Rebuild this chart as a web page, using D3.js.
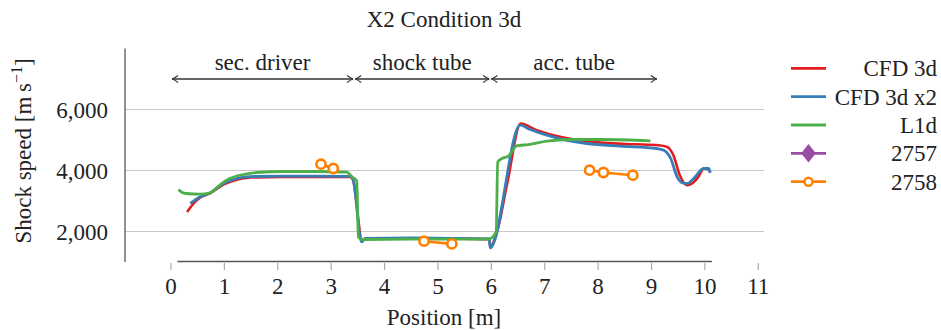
<!DOCTYPE html>
<html><head><meta charset="utf-8">
<script src="https://cdn.jsdelivr.net/npm/d3@7"></script>
<style>
body{margin:0;background:#fff;}
svg text{font-family:'Liberation Serif','Times New Roman',serif;fill:#222;}
</style></head>
<body><svg id="c" width="941" height="330" font-family="Liberation Serif, Times New Roman, serif"></svg>
<script>
// ---- data ----
const xTicks = [0,1,2,3,4,5,6,7,8,9,10,11];
const yTicks = [2000,4000,6000];
const cfd3d = [[0.30,2640],[0.36,2780],[0.45,2970],[0.54,3110],[0.73,3250],[0.98,3540],[1.23,3700],[1.48,3770],[2.1,3790],[2.8,3790],[3.35,3790],[3.41,3690],[3.47,3000],[3.52,2200],[3.57,1680],[3.64,1760],[4.5,1780],[5.5,1760],[5.96,1750],[5.98,1500],[6.1,1950],[6.3,3600],[6.55,5540],[6.85,5320],[7.35,5080],[8.1,4905],[8.7,4860],[9.13,4830],[9.29,4774],[9.41,4502],[9.53,3846],[9.67,3518],[9.76,3574],[9.88,3800],[9.98,4066],[10.07,4030],[10.1,3940]];
const cfd3dx2 = [[0.36,2920],[0.54,3134],[0.73,3266],[0.98,3574],[1.23,3738],[1.48,3800],[2.1,3815],[3.35,3810],[3.41,3705],[3.57,1659],[3.64,1770],[4.5,1790],[5.5,1770],[5.96,1760],[5.98,1460],[6.54,5485],[6.73,5344],[7.04,5157],[7.35,5016],[7.79,4885],[8.41,4797],[9.1,4721],[9.23,4666],[9.36,4393],[9.48,3790],[9.58,3593],[9.67,3574],[9.79,3738],[9.98,4066],[10.07,4066],[10.1,3921]];
const l1d = [[0.14,3377],[0.2,3290],[0.29,3246],[0.54,3223],[0.73,3266],[0.85,3420],[0.95,3574],[1.1,3738],[1.36,3869],[1.6,3934],[2.1,3967],[2.73,3967],[3.29,3944],[3.39,3790],[3.48,3659],[3.51,1823],[3.57,1738],[4.5,1750],[5.5,1750],[5.95,1750],[6.09,1987],[6.12,4282],[6.2,4393],[6.32,4469],[6.38,4610],[6.47,4807],[6.7,4852],[7.04,4961],[7.48,5016],[8.1,5016],[8.98,4971]];
const s2757 = [];
const s2758 = [[[2.81,4207],[3.04,4066]],[[4.74,1682],[5.26,1594]],[[7.84,4010],[8.1,3934],[8.65,3846]]];
const sectionNames = ["sec. driver","shock tube","acc. tube"];
const sectionStart = [0.02,3.45,6.0];
const sectionEnd = [3.41,5.96,9.1];
const legendNames = ["CFD 3d","CFD 3d x2","L1d","2757","2758"];
const colors = ["#e41a1c","#377eb8","#4daf4a","#984ea3","#ff7f00"];

// ---- chart ----
const svg = d3.select("#c");
const FF = "Liberation Serif, Times New Roman, serif";
const x = d3.scaleLinear().domain([-0.8616, 11.107]).range([125, 764]);
const y = d3.scaleLinear().domain([1000, 8000]).range([262, 48.5]);

// grid
svg.append("g").selectAll("line").data(yTicks).join("line")
  .attr("x1",125).attr("x2",764).attr("y1",d=>y(d)).attr("y2",d=>y(d))
  .attr("stroke","#c8c8c8").attr("stroke-width",1.2);

// y axis
svg.append("line").attr("x1",125).attr("x2",125).attr("y1",y(8000)).attr("y2",y(1000))
  .attr("stroke","#555").attr("stroke-width",1.3);
svg.append("g").selectAll("text").data(yTicks).join("text")
  .attr("x",108).attr("y",d=>y(d)+8).attr("text-anchor","end")
  .attr("font-family",FF).attr("font-size",23).text(d=>d3.format(",")(d));

// x axis
svg.append("line").attr("x1",x(0.12)).attr("x2",x(10.13)).attr("y1",261.5).attr("y2",261.5)
  .attr("stroke","#555").attr("stroke-width",1.3);
svg.append("g").selectAll("line").data(xTicks).join("line")
  .attr("x1",d=>x(d)).attr("x2",d=>x(d)).attr("y1",263).attr("y2",270)
  .attr("stroke","#aaa").attr("stroke-width",1.2);
svg.append("g").selectAll("text").data(xTicks).join("text")
  .attr("x",d=>x(d)).attr("y",294).attr("text-anchor","middle")
  .attr("font-family",FF).attr("font-size",23).text(d=>d);

// labels
svg.append("text").attr("x",444).attr("y",27).attr("text-anchor","middle").attr("font-family",FF).attr("font-size",23).text("X2 Condition 3d");
svg.append("text").attr("x",444).attr("y",325).attr("text-anchor","middle").attr("font-family",FF).attr("font-size",23).text("Position [m]");
const yl = svg.append("text").attr("transform","translate(31,151) rotate(-90)").attr("text-anchor","middle").attr("font-family",FF).attr("font-size",23);
yl.append("tspan").text("Shock speed [m\u2009s");
yl.append("tspan").attr("dy",-9).attr("font-size",16).text("\u22121");
yl.append("tspan").attr("dy",9).text("]");

// section arrows
const defs = svg.append("defs");
defs.append("marker").attr("id","ah").attr("viewBox","-8 -5 10 10").attr("refX",0).attr("refY",0)
  .attr("markerWidth",10).attr("markerHeight",10).attr("markerUnits","userSpaceOnUse").attr("orient","auto-start-reverse")
  .append("path").attr("d","M-6,-3.5 Q-2,-0.5 0,0 Q-2,0.5 -6,3.5").attr("fill","none").attr("stroke","#333").attr("stroke-width",1.1);
const sec = svg.append("g");
sectionNames.forEach((n,i)=>{
  sec.append("line").attr("x1",x(sectionStart[i])).attr("x2",x(sectionEnd[i])).attr("y1",79).attr("y2",79)
    .attr("stroke","#333").attr("stroke-width",1.3)
    .attr("marker-start","url(#ah)").attr("marker-end","url(#ah)");
  sec.append("text").attr("x",(x(sectionStart[i])+x(sectionEnd[i]))/2).attr("y",70)
    .attr("text-anchor","middle").attr("font-family",FF).attr("font-size",23).text(n);
});

// lines
const line = d3.line().x(d=>x(d[0])).y(d=>y(d[1])).curve(d3.curveMonotoneX);
const lineL = d3.line().x(d=>x(d[0])).y(d=>y(d[1]));
svg.append("path").datum(cfd3d).attr("d",line).attr("fill","none").attr("stroke",colors[0]).attr("stroke-width",2.6).attr("stroke-linejoin","round");
svg.append("path").datum(cfd3dx2).attr("d",line).attr("fill","none").attr("stroke",colors[1]).attr("stroke-width",2.8).attr("stroke-linejoin","round");
svg.append("path").datum(l1d).attr("d",line).attr("fill","none").attr("stroke",colors[2]).attr("stroke-width",2.8).attr("stroke-linejoin","round");
svg.append("path").datum(s2757).attr("d",lineL).attr("fill","none").attr("stroke",colors[3]).attr("stroke-width",2.6);
const og = svg.append("g");
s2758.forEach(seg=>{
  og.append("path").datum(seg).attr("d",lineL).attr("fill","none").attr("stroke",colors[4]).attr("stroke-width",2.6);
  og.selectAll(null).data(seg).join("circle").attr("cx",d=>x(d[0])).attr("cy",d=>y(d[1])).attr("r",4.6)
    .attr("fill","#fff").attr("stroke",colors[4]).attr("stroke-width",2.6);
});

// legend
const lg = svg.append("g");
legendNames.forEach((n,i)=>{
  const cy = 68.3 + i*28.35;
  lg.append("line").attr("x1",791).attr("x2",826).attr("y1",cy).attr("y2",cy).attr("stroke",colors[i]).attr("stroke-width",2.8);
  if(i===3){
    lg.append("path").attr("d",d3.symbol(d3.symbolDiamond,110)()).attr("transform",`translate(808.5,${cy}) scale(1.3,0.95)`).attr("fill",colors[3]);
  }
  if(i===4){
    lg.append("circle").attr("cx",808.5).attr("cy",cy).attr("r",4).attr("fill","#fff").attr("stroke",colors[4]).attr("stroke-width",2.4);
  }
  lg.append("text").attr("x",937).attr("y",cy+8).attr("text-anchor","end").attr("font-family",FF).attr("font-size",23).text(n);
});
</script></body></html>
